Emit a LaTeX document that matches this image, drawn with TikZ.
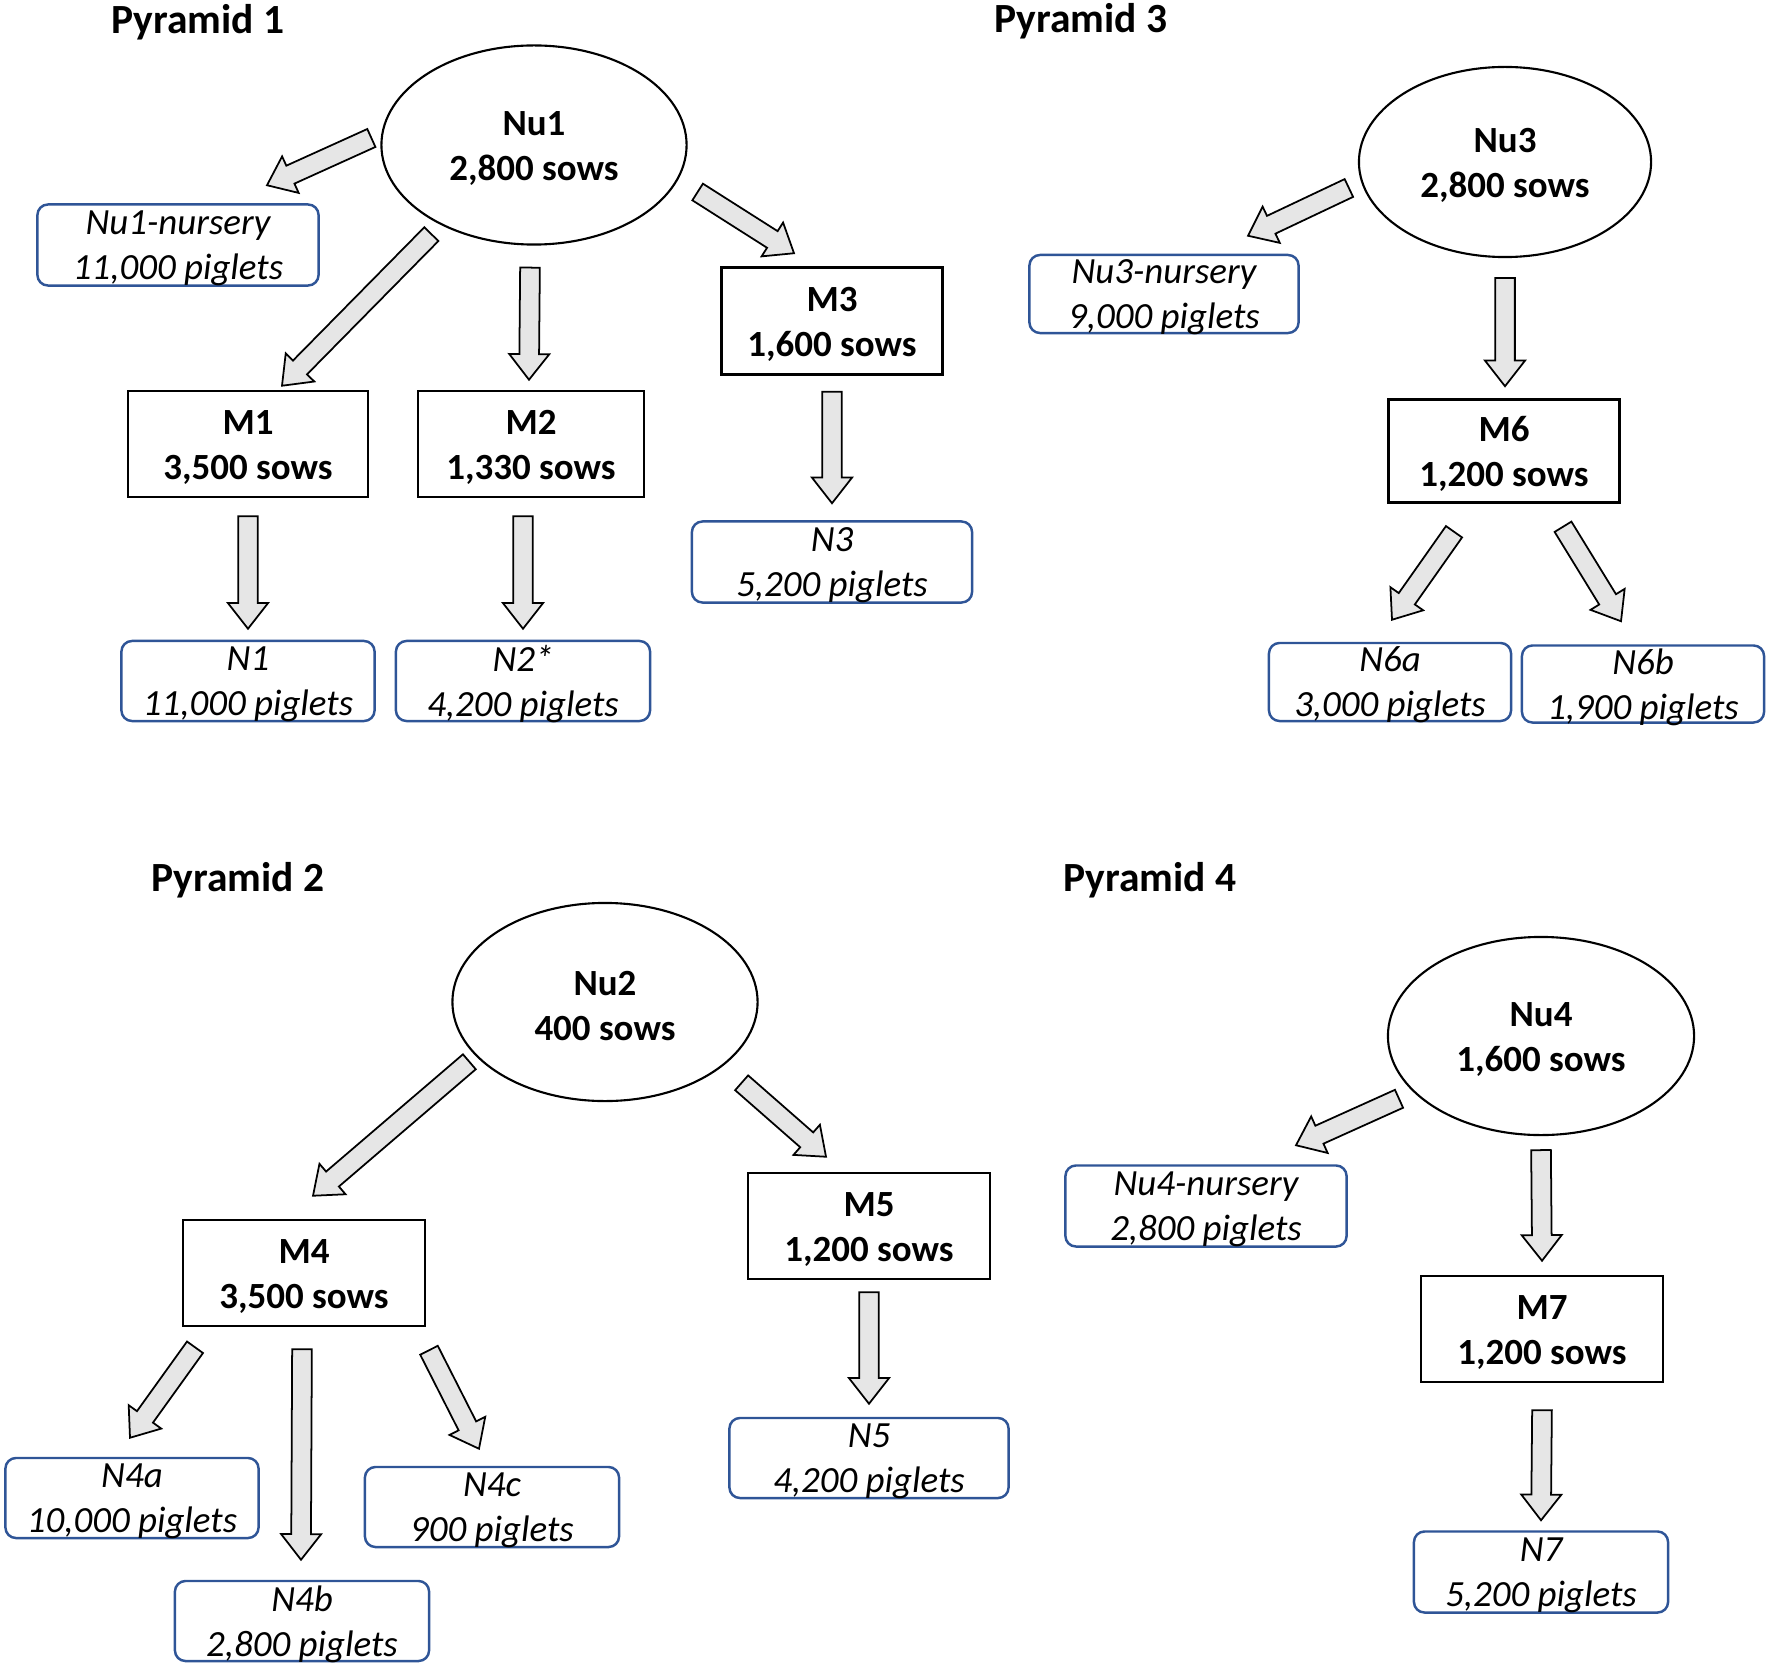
\documentclass[tikz,border=0pt]{standalone}
\usepackage{fontspec}
\setmainfont{Carlito}
\usetikzlibrary{calc,shapes.geometric}
\definecolor{boxblue}{RGB}{47,85,151}
\definecolor{arrowgray}{RGB}{230,230,230}
\newcommand{\twoline}[2]{\rule{0pt}{9pt}#1\\#2}
\newcommand{\pigline}[2]{\rule{0pt}{7pt}#1\\\smash{#2}}
\newcommand{\fatarrow}[2]{%
	\coordinate (fa-s) at #1;
	\coordinate (fa-t) at #2;
	\coordinate (fa-n) at ($(fa-t)!7.3pt!(fa-s)$);
	\draw[fat] ($(fa-s)!2.8pt!90:(fa-t)$) -- ($(fa-n)!2.8pt!90:(fa-t)$) -- ($(fa-n)!5.7pt!90:(fa-t)$) -- (fa-t)
		-- ($(fa-n)!5.7pt!-90:(fa-t)$) -- ($(fa-n)!2.8pt!-90:(fa-t)$) -- ($(fa-s)!2.8pt!-90:(fa-t)$) -- cycle;
}
\begin{document}
\begin{tikzpicture}[x=0.01cm, y=-0.01cm,
	title/.style = {font=\fontsize{11.8}{14}\selectfont\bfseries},
	nucleus/.style = {draw, ellipse, line width=0.6pt, inner sep=0pt, align=center, font=\fontsize{10.5}{12.8}\selectfont\bfseries},
	multi/.style = {draw, rectangle, line width=0.7pt, inner sep=0pt, align=center, minimum width=2.42cm, minimum height=1.06cm, font=\fontsize{10.5}{12.8}\selectfont\bfseries},
	nursery/.style = {draw=boxblue, rounded corners=3pt, line width=0.7pt, inner sep=0pt, align=center, minimum width=2.54cm, minimum height=0.80cm, font=\fontsize{10.5}{12.8}\selectfont\itshape},
	fat/.style = {draw, fill=arrowgray, line width=0.5pt, line join=miter}]
	\useasboundingbox (0,0) rectangle (1770,1670);

	\node[title] (p1) at (198,22) {Pyramid 1};
	\node[nucleus, minimum width=3.05cm, minimum height=1.99cm] (Nu1) at (534,145) {\twoline{Nu1}{2,800 sows}};
	\node[nursery, minimum width=2.81cm, minimum height=0.81cm] (Nu1n) at (178,245) {\pigline{Nu1-nursery}{11,000 piglets}};
	\node[multi, minimum width=2.40cm] (M1) at (248,444) {\twoline{M1}{3,500 sows}};
	\node[multi, minimum width=2.26cm] (M2) at (531,444) {\twoline{M2}{1,330 sows}};
	\node[multi, minimum width=2.21cm, minimum height=1.07cm] (M3) at (832,321) {\twoline{M3}{1,600 sows}};
	\node[nursery, minimum width=2.53cm] (N1) at (248,681) {\pigline{N1}{11,000 piglets}};
	\node[nursery] (N2) at (523,681) {\pigline{N2*}{4,200 piglets}};
	\node[nursery, minimum width=2.80cm, minimum height=0.81cm] (N3) at (832,562) {\pigline{N3}{5,200 piglets}};
	\fatarrow{($(Nu1.west)+(-9,-7)$)}{($(Nu1n.north)+(89,-18)$)}
	\fatarrow{($(Nu1.south west)+(6,18)$)}{($(M1.north)+(34,-4)$)}
	\fatarrow{($(Nu1.south)+(-4,22)$)}{($(M2.north)+(-2,-10)$)}
	\fatarrow{($(Nu1.east)+(10,47)$)}{($(M3.north)+(-38,-13)$)}
	\fatarrow{($(M1.south)+(0,18)$)}{($(N1.north)+(0,-11)$)}
	\fatarrow{($(M2.south)+(-8,18)$)}{($(N2.north)+(0,-11)$)}
	\fatarrow{($(M3.south)+(0,16)$)}{($(N3.north)+(0,-17)$)}

	\node[title] (p3) at (1081,21) {Pyramid 3};
	\node[nucleus, minimum width=2.92cm, minimum height=1.90cm] (Nu3) at (1505,162) {\twoline{Nu3}{2,800 sows}};
	\node[nursery, minimum width=2.69cm, minimum height=0.78cm] (Nu3n) at (1164,294) {\pigline{Nu3-nursery}{9,000 piglets}};
	\node[multi, minimum width=2.31cm, minimum height=1.03cm] (M6) at (1504,451) {\twoline{M6}{1,200 sows}};
	\node[nursery, minimum width=2.42cm, minimum height=0.78cm] (N6a) at (1390,682) {\pigline{N6a}{3,000 piglets}};
	\node[nursery, minimum width=2.42cm, minimum height=0.77cm] (N6b) at (1643,684) {\pigline{N6b}{1,900 piglets}};
	\fatarrow{($(Nu3.west)+(-9,26)$)}{($(Nu3n.north)+(84,-18)$)}
	\fatarrow{($(Nu3.south)+(0,20)$)}{($(M6.north)+(1,-12)$)}
	\fatarrow{($(M6.south)+(-50,28)$)}{($(N6a.north)+(2,-22)$)}
	\fatarrow{($(M6.south)+(59,23)$)}{($(N6b.north)+(-22,-23)$)}

	\node[title] (p2) at (238,880) {Pyramid 2};
	\node[nucleus, minimum width=3.05cm, minimum height=1.98cm] (Nu2) at (605,1002) {\twoline{Nu2}{400 sows}};
	\node[multi] (M4) at (304,1273) {\twoline{M4}{3,500 sows}};
	\node[multi] (M5) at (869,1226) {\twoline{M5}{1,200 sows}};
	\node[nursery, minimum width=2.53cm] (N4a) at (132,1498) {\pigline{N4a}{10,000 piglets}};
	\node[nursery] (N4b) at (302,1621) {\pigline{N4b}{2,800 piglets}};
	\node[nursery] (N4c) at (492,1507) {\pigline{N4c}{900 piglets}};
	\node[nursery, minimum width=2.79cm] (N5) at (869,1458) {\pigline{N5}{4,200 piglets}};
	\fatarrow{($(Nu2.south west)+(-27,-11)$)}{($(M4.north)+(9,-23)$)}
	\fatarrow{($(Nu2.south east)+(28,10)$)}{($(M5.north)+(-43,-15)$)}
	\fatarrow{($(M4.south)+(-109,20)$)}{($(N4a.north)+(-2,-19)$)}
	\fatarrow{($(M4.south)+(-2,22)$)}{($(N4b.north)+(-1,-20)$)}
	\fatarrow{($(M4.south)+(125,23)$)}{($(N4c.north)+(-13,-17)$)}
	\fatarrow{($(M5.south)+(0,12)$)}{($(N5.north)+(0,-13)$)}

	\node[title] (p4) at (1150,880) {Pyramid 4};
	\node[nucleus, minimum width=3.06cm, minimum height=1.98cm] (Nu4) at (1541,1036) {\twoline{Nu4}{1,600 sows}};
	\node[nursery, minimum width=2.81cm, minimum height=0.81cm] (Nu4n) at (1206,1206) {\pigline{Nu4-nursery}{2,800 piglets}};
	\node[multi] (M7) at (1542,1329) {\twoline{M7}{1,200 sows}};
	\node[nursery, minimum height=0.81cm] (N7) at (1541,1572) {\pigline{N7}{5,200 piglets}};
	\fatarrow{($(Nu4.south west)+(-33,-8)$)}{($(Nu4n.north)+(90,-19)$)}
	\fatarrow{($(Nu4.south)+(0,14)$)}{($(M7.north)+(0,-14)$)}
	\fatarrow{($(M7.south)+(0,27)$)}{($(N7.north)+(0,-10)$)}
\end{tikzpicture}
\end{document}
